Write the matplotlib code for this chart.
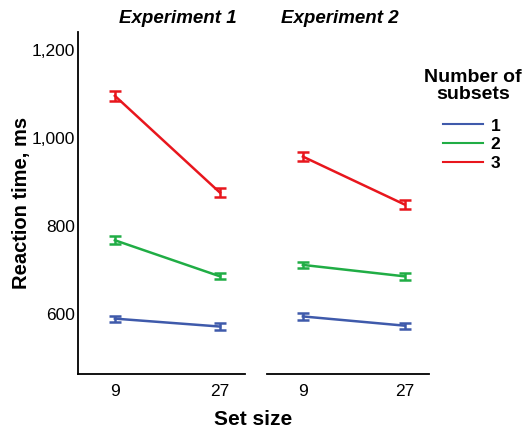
import matplotlib.pyplot as plt
from matplotlib.lines import Line2D
from matplotlib.ticker import FuncFormatter

plt.rcParams['font.family'] = ['Liberation Sans', 'DejaVu Sans']

set_sizes = ['9', '27']
experiments = ['Experiment 1', 'Experiment 2']
subsets = ['1', '2', '3']
colors = ['#3f5aab', '#20ad45', '#e8161d']

# mean RT per subset count, per experiment
exp1_rt = [[590, 572], [768, 686], [1096, 876]]
exp2_rt = [[595, 574], [712, 686], [958, 849]]
exp1_err = [[7, 7], [9, 7], [12, 10]]
exp2_err = [[7, 7], [7, 8], [11, 10]]

fig = plt.figure(figsize=(5.24, 4.32), dpi=100)
ax1 = fig.add_axes([0.149, 0.134, 0.319, 0.792])
ax2 = fig.add_axes([0.510, 0.134, 0.309, 0.792], sharey=ax1)

x = [0, 1]
for ax, rt, err in [(ax1, exp1_rt, exp1_err), (ax2, exp2_rt, exp2_err)]:
    for i in range(3):
        ax.errorbar(x, rt[i], yerr=err[i], color=colors[i], lw=1.8,
                    capsize=4.5, capthick=1.8, elinewidth=1.8)
    ax.set_xlim(-0.35, 1.24)
    ax.set_xticks(x)
    ax.set_xticklabels(set_sizes)
    for s in ['top', 'right']:
        ax.spines[s].set_visible(False)
    ax.spines['left'].set_linewidth(1.3)
    ax.spines['bottom'].set_linewidth(1.3)
    ax.tick_params(labelsize=12.5, length=0, pad=7)

ax1.set_ylim(464, 1241)
ax1.set_yticks([600, 800, 1000, 1200])
ax1.yaxis.set_major_formatter(FuncFormatter(lambda v, p: f'{int(v):,}'))
ax1.tick_params(axis='y', pad=2)
ax1.set_ylabel('Reaction time, ms', fontsize=14.5, fontweight='bold', labelpad=1)
ax2.spines['left'].set_visible(False)
ax2.tick_params(axis='y', left=False, labelleft=False)

fig.text(0.340, 0.958, experiments[0], fontsize=13.5, fontweight='bold',
         style='italic', ha='center', va='center')
fig.text(0.649, 0.958, experiments[1], fontsize=13.5, fontweight='bold',
         style='italic', ha='center', va='center')
fig.text(0.483, 0.028, 'Set size', fontsize=15, fontweight='bold',
         ha='center', va='center')

# legend: title as text, entries as a plain legend
fig.text(0.903, 0.802, 'Number of\nsubsets', fontsize=14, fontweight='bold',
         ha='center', va='center', linespacing=1.0)
handles = [Line2D([], [], color=c, lw=1.5) for c in colors]
leg = fig.legend(handles, subsets, loc='upper left',
                 bbox_to_anchor=(0.845, 0.726), frameon=False, fontsize=12.5,
                 handlelength=2.3, handletextpad=0.45, labelspacing=0.2,
                 borderpad=0, borderaxespad=0)
for t in leg.get_texts():
    t.set_fontweight('bold')

fig.savefig('out.png', dpi=100)
